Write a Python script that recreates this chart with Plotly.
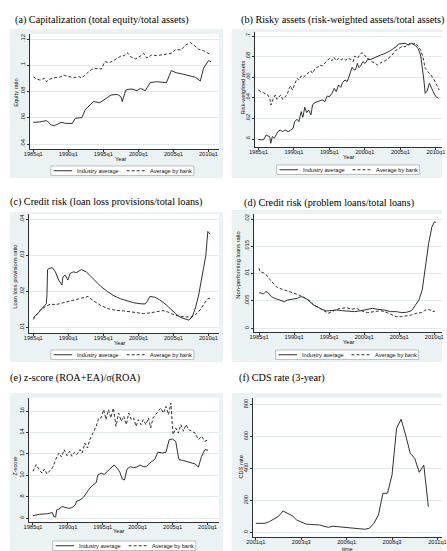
import plotly.graph_objects as go

W, H = 447, 551

# ---------------- data ----------------
yr_ticks = [1985, 1990, 1995, 2000, 2005, 2010]
yr_labels = ["1985q1", "1990q1", "1995q1", "2000q1", "2005q1", "2010q1"]

# (a) Capitalization (total equity/total assets)
a_ind_x = [1985.0, 1985.93, 1986.85, 1987.08, 1987.55, 1988.0, 1988.47, 1988.94, 1989.63, 1990.56,
           1991.0, 1991.94, 1992.4, 1993.1, 1993.56, 1994.5, 1995.2, 1996.1, 1997.0, 1997.5,
           1997.7, 1998.2, 1998.66, 1999.1, 1999.8, 2000.3, 2001.0, 2001.67, 2002.6, 2004.0,
           2004.7, 2005.4, 2006.3, 2007.2, 2008.15, 2008.84, 2009.3, 2010.0, 2010.37]
a_ind_y = [.0565, .0568, .0578, .0570, .0545, .0540, .0550, .0565, .0557, .0557,
           .0596, .0601, .0659, .0697, .0723, .0715, .0740, .0773, .0778, .0761,
           .0723, .0811, .0817, .0819, .0806, .0824, .0806, .0867, .0875, .0867,
           .0959, .0943, .0933, .0921, .0908, .0880, .0977, .1035, .1027]
a_bank_x = [1985.0, 1985.46, 1985.93, 1986.62, 1986.85, 1987.31, 1988.0, 1988.7, 1989.4, 1990.09,
            1990.79, 1991.48, 1991.94, 1992.64, 1993.33, 1994.26, 1994.72, 1995.19, 1995.88, 1996.57,
            1997.5, 1997.96, 1998.43, 1998.89, 1999.58, 2000.28, 2000.74, 2001.2, 2001.9, 2002.59,
            2003.29, 2003.98, 2004.68, 2005.37, 2006.06, 2006.76, 2007.45, 2007.92, 2008.61, 2009.3,
            2010.0, 2010.37]
a_bank_y = [.0913, .0895, .0888, .0900, .0875, .0893, .0905, .0908, .0923, .0916,
            .0905, .0913, .0903, .0938, .0969, .0977, .0971, .1027, .1020, .1040,
            .1070, .1073, .1096, .1065, .1048, .1070, .1091, .1055, .1078, .1073,
            .1078, .1086, .1091, .1121, .1116, .1154, .1172, .1154, .1121, .1111,
            .1091, .1078]
a_yticks = [0.04, 0.06, 0.08, 0.10, 0.12]
a_ylabels = [".04", ".06", ".08", ".1", ".12"]

# (b) Risky assets (risk-weighted assets/total assets)
b_ind_x = [1985.0, 1985.41, 1985.78, 1986.1, 1986.37, 1986.6, 1986.74, 1986.97, 1987.24, 1987.51,
           1987.74, 1988.06, 1988.43, 1988.75, 1989.2, 1989.57, 1989.89, 1990.12, 1990.44, 1990.71,
           1991.03, 1991.26, 1991.54, 1991.81, 1992.08, 1992.4, 1992.63, 1992.91, 1993.23, 1993.64,
           1994.0, 1994.37, 1994.69, 1995.01, 1995.37, 1995.69, 1995.97, 1996.29, 1996.61, 1996.84,
           1997.2, 1997.52, 1997.89, 1998.21, 1998.48, 1998.71, 1998.94, 1999.17, 1999.4, 1999.72,
           2000.04, 2000.4, 2000.86, 2001.32, 2001.77, 2002.23, 2002.69, 2003.14, 2003.6, 2004.06,
           2004.42, 2004.74, 2005.2, 2005.66, 2006.11, 2006.57, 2007.03, 2007.49, 2007.85, 2008.08,
           2008.31, 2008.49, 2008.72, 2009.09, 2009.36, 2009.63, 2010.0, 2010.37]
b_ind_y = [.6000, .5994, .6000, .6042, .6032, .6026, .5961, .6026, .6010, .6042,
           .6074, .6090, .6074, .6090, .6074, .6090, .6106, .6171, .6194, .6171,
           .6268, .6213, .6310, .6258, .6284, .6235, .6332, .6355, .6365, .6374,
           .6381, .6365, .6419, .6413, .6445, .6494, .6461, .6526, .6503, .6548,
           .6574, .6558, .6645, .6697, .6671, .6677, .6735, .6694, .6710, .6752,
           .6735, .6774, .6774, .6790, .6806, .6816, .6826, .6839, .6858, .6881,
           .6897, .6923, .6929, .6929, .6913, .6929, .6913, .6881, .6816, .6703,
           .6574, .6445, .6461, .6542, .6494, .6461, .6413, .6397]
b_bank_x = [1985.0, 1985.32, 1985.69, 1986.01, 1986.33, 1986.6, 1986.78, 1987.06, 1987.38, 1987.61,
            1987.88, 1988.15, 1988.43, 1988.75, 1989.07, 1989.34, 1989.57, 1989.8, 1990.12, 1990.44,
            1990.71, 1991.03, 1991.35, 1991.72, 1992.08, 1992.36, 1992.63, 1993.0, 1993.32, 1993.64,
            1994.0, 1994.37, 1994.69, 1995.01, 1995.37, 1995.65, 1995.97, 1996.29, 1996.65, 1996.97,
            1997.29, 1997.66, 1998.03, 1998.35, 1998.57, 1998.94, 1999.26, 1999.58, 1999.95, 2000.31,
            2000.63, 2000.95, 2001.32, 2001.77, 2002.14, 2002.46, 2002.92, 2003.37, 2003.83, 2004.29,
            2004.74, 2005.2, 2005.66, 2006.11, 2006.43, 2006.8, 2007.17, 2007.53, 2007.85, 2008.17,
            2008.49, 2008.86, 2009.31, 2009.77, 2010.23, 2010.46]
b_bank_y = [.6477, .6461, .6452, .6439, .6429, .6397, .6332, .6387, .6429, .6387,
            .6413, .6429, .6387, .6413, .6435, .6494, .6516, .6477, .6542, .6590,
            .6574, .6613, .6600, .6623, .6639, .6665, .6639, .6687, .6697, .6719,
            .6710, .6742, .6761, .6784, .6761, .6794, .6761, .6784, .6768, .6784,
            .6768, .6784, .6774, .6752, .6806, .6784, .6816, .6839, .6816, .6784,
            .6774, .6752, .6742, .6719, .6735, .6752, .6761, .6784, .6816, .6858,
            .6881, .6897, .6897, .6913, .6935, .6923, .6929, .6897, .6865, .6800,
            .6687, .6655, .6623, .6574, .6510, .6477]
b_yticks = [0.60, 0.62, 0.64, 0.66, 0.68, 0.70]
b_ylabels = [".6", ".62", ".64", ".66", ".68", ".7"]

# (c) Credit risk (loan loss provisions/total loans)
c_ind_x = [1985.0, 1985.37, 1985.84, 1986.3, 1986.86, 1986.95, 1987.04, 1987.23, 1987.7, 1988.16,
           1988.62, 1989.09, 1989.23, 1989.55, 1989.93, 1990.25, 1990.72, 1991.18, 1991.88, 1992.57,
           1993.27, 1993.97, 1994.67, 1995.59, 1996.52, 1997.45, 1998.38, 1999.31, 2000.24, 2000.94,
           2001.26, 2001.64, 2002.33, 2003.03, 2003.96, 2004.66, 2005.35, 2006.05, 2006.75, 2007.21,
           2007.68, 2008.14, 2008.61, 2009.07, 2009.63, 2009.91, 2010.23]
c_ind_y = [.01273, .01336, .01436, .01545, .01664, .01909, .02609, .02636, .02664, .02545,
           .02318, .02182, .02409, .02455, .02318, .02500, .02545, .02527, .02609, .02545,
           .02409, .02273, .02136, .02000, .01882, .01800, .01736, .01691, .01664, .01655,
           .01727, .01864, .01845, .01773, .01636, .01500, .01382, .01282, .01227, .01209,
           .01300, .01545, .01909, .02364, .03000, .03664, .03591]
c_bank_x = [1985.0, 1985.84, 1986.77, 1987.46, 1988.16, 1989.09, 1990.02, 1991.18, 1992.34, 1992.81,
            1993.5, 1994.67, 1995.83, 1996.76, 1997.92, 1998.85, 1999.78, 2000.71, 2001.64, 2002.57,
            2003.49, 2004.19, 2004.89, 2005.82, 2006.75, 2007.44, 2008.14, 2008.84, 2009.44, 2009.91,
            2010.23]
c_bank_y = [.01227, .01455, .01591, .01655, .01636, .01682, .01727, .01791, .01845, .01864,
            .01755, .01609, .01518, .01482, .01464, .01436, .01409, .01391, .01409, .01436,
            .01473, .01436, .01373, .01318, .01300, .01291, .01355, .01500, .01682, .01800,
            .01818]
c_yticks = [0.01, 0.02, 0.03, 0.04]
c_ylabels = [".01", ".02", ".03", ".04"]

# (d) Credit risk (problem loans/total loans)
d_ind_x = [1985.0, 1985.14, 1985.6, 1985.97, 1986.3, 1986.76, 1987.22, 1987.69, 1988.15, 1988.61,
           1989.07, 1989.54, 1990.0, 1990.46, 1990.93, 1991.39, 1991.85, 1992.31, 1992.78, 1993.47,
           1993.94, 1994.63, 1995.42, 1996.11, 1996.81, 1997.73, 1998.66, 1999.58, 2000.51, 2001.2,
           2001.9, 2002.82, 2003.75, 2004.58, 2005.37, 2006.06, 2006.76, 2007.13, 2007.45, 2007.82,
           2008.29, 2008.75, 2009.21, 2009.68, 2010.05, 2010.23]
d_ind_y = [.00640, .00652, .00628, .00671, .00652, .00579, .00549, .00530, .00518, .00488,
           .00518, .00530, .00549, .00549, .00579, .00567, .00530, .00470, .00427, .00384,
           .00348, .00317, .00323, .00335, .00323, .00317, .00305, .00323, .00348, .00366,
           .00348, .00335, .00305, .00305, .00287, .00293, .00323, .00396, .00457, .00518,
           .00701, .01128, .01555, .01860, .01951, .01933]
d_bank_x = [1985.0, 1985.14, 1985.6, 1986.06, 1986.53, 1986.99, 1987.45, 1987.92, 1988.38, 1988.84,
            1989.31, 1989.77, 1990.23, 1990.69, 1991.16, 1991.62, 1992.08, 1992.55, 1993.01, 1993.7,
            1994.4, 1994.86, 1995.42, 1996.11, 1996.81, 1997.5, 1998.19, 1998.89, 1999.58, 2000.51,
            2001.44, 2002.36, 2003.29, 2003.98, 2004.58, 2005.37, 2006.06, 2006.76, 2007.45, 2008.15,
            2008.61, 2008.98, 2009.44, 2009.77, 2010.14]
d_bank_y = [.01098, .01037, .01018, .00976, .00896, .00823, .00762, .00732, .00713, .00689,
            .00671, .00652, .00628, .00610, .00579, .00549, .00518, .00457, .00409, .00366,
            .00305, .00274, .00305, .00348, .00366, .00378, .00348, .00366, .00323, .00287,
            .00305, .00323, .00287, .00244, .00213, .00213, .00226, .00244, .00274, .00287,
            .00323, .00348, .00335, .00305, .00317]
d_yticks = [0, 0.005, 0.01, 0.015, 0.02]
d_ylabels = ["0", ".005", ".01", ".015", ".02"]

# (e) z-score (ROA+EA)/sigma(ROA)
e_ind_x = [1985.0, 1985.93, 1987.09, 1987.79, 1987.97, 1988.25, 1988.39, 1988.72, 1989.18, 1989.65,
           1990.11, 1990.58, 1991.04, 1991.27, 1991.74, 1992.2, 1992.67, 1993.13, 1993.6, 1994.06,
           1994.29, 1994.76, 1995.22, 1995.69, 1996.15, 1996.62, 1997.08, 1997.45, 1997.78, 1998.1,
           1998.48, 1998.94, 1999.41, 1999.87, 2000.33, 2000.8, 2001.26, 2001.73, 2002.43, 2002.89,
           2003.59, 2004.05, 2004.52, 2004.98, 2005.45, 2005.68, 2005.91, 2006.61, 2007.3, 2008.23,
           2008.7, 2009.16, 2009.63, 2010.09]
e_ind_y = [6.25, 6.37, 6.43, 6.53, 6.16, 6.12, 6.78, 6.87, 7.09, 6.99,
           6.93, 6.99, 7.24, 7.61, 7.71, 7.93, 8.42, 8.80, 9.11, 9.32,
           10.04, 10.19, 10.10, 10.41, 10.66, 10.97, 10.66, 10.29, 9.66, 9.57,
           10.60, 10.81, 10.72, 10.78, 10.97, 10.81, 10.81, 11.16, 11.47, 12.15,
           12.09, 12.15, 13.33, 13.39, 13.17, 12.09, 11.47, 11.37, 11.25, 11.06,
           10.78, 11.78, 12.40, 12.34]
e_bank_x = [1985.0, 1985.46, 1985.93, 1986.3, 1986.63, 1987.0, 1987.46, 1987.79, 1988.25, 1988.72,
            1989.09, 1989.46, 1989.88, 1990.25, 1990.58, 1990.95, 1991.27, 1991.74, 1992.06, 1992.43,
            1992.81, 1993.13, 1993.6, 1994.06, 1994.43, 1994.76, 1995.13, 1995.46, 1995.83, 1996.15,
            1996.52, 1996.9, 1997.27, 1997.64, 1998.01, 1998.38, 1998.71, 1999.08, 1999.41, 1999.78,
            2000.1, 2000.47, 2000.8, 2001.17, 2001.54, 2001.87, 2002.19, 2002.57, 2002.94, 2003.31,
            2003.68, 2004.05, 2004.42, 2004.75, 2005.07, 2005.45, 2005.82, 2006.19, 2006.56, 2006.93,
            2007.3, 2007.77, 2008.23, 2008.7, 2009.16, 2009.63, 2010.09]
e_bank_y = [10.38, 11.00, 10.47, 10.22, 10.60, 10.13, 10.47, 10.69, 11.47, 12.09,
            11.71, 12.40, 11.84, 12.24, 11.78, 12.15, 11.93, 12.40, 12.09, 13.02,
            12.55, 13.33, 13.95, 14.57, 15.35, 15.35, 16.12, 15.19, 16.12, 15.35,
            16.28, 14.57, 15.81, 15.04, 15.50, 14.73, 15.81, 15.19, 15.35, 14.57,
            15.19, 14.73, 15.19, 14.73, 15.35, 14.42, 15.35, 15.66, 15.97, 16.28,
            15.81, 16.43, 15.66, 16.75, 13.80, 14.42, 13.95, 14.73, 14.11, 14.73,
            14.26, 14.11, 13.95, 13.33, 13.64, 13.17, 13.33]
e_yticks = [6, 8, 10, 12, 14, 16]
e_ylabels = ["6", "8", "10", "12", "14", "16"]

# (f) CDS rate (3-year), quarterly
f_quarters = ["2001q1", "2001q2", "2001q3", "2001q4", "2002q1", "2002q2", "2002q3", "2002q4",
              "2003q1", "2003q2", "2003q3", "2003q4", "2004q1", "2004q2", "2004q3", "2004q4",
              "2005q1", "2005q2", "2005q3", "2005q4", "2006q1", "2006q2", "2006q3", "2006q4",
              "2007q1", "2007q2", "2007q3", "2007q4", "2008q1", "2008q2", "2008q3", "2008q4",
              "2009q1", "2009q2", "2009q3", "2009q4", "2010q1", "2010q2", "2010q3"]
f_cds = [56, 56, 56, 67, 81, 100, 133, 119, 104, 77,
         63, 52, 49, 47, 46, 38, 31, 38, 35, 31,
         29, 27, 25, 22, 19, 25, 56, 108, 244, 244,
         358, 650, 706, 608, 494, 462, 375, 420, 160]
f_xlabels = ["2001q1", "2003q3", "2006q1", "2008q3", "2011q1"]
f_yticks = [0, 200, 400, 600, 800]
f_ylabels = ["0", "200", "400", "600", "800"]


def qindex(s):
    return (int(s[:4]) - 2001) * 4 + int(s[5]) - 1


f_x = [qindex(s) for s in f_quarters]
f_xticks = [qindex(s) for s in f_xlabels]

# ---------------- styling ----------------
BG = "#EAF2F3"
GRID = "#E1E9EA"
AX = "#303030"
LINE = "#262626"
SANS = "Liberation Sans, Arial, sans-serif"
SERIF = "Liberation Serif, Times New Roman, serif"
TICKFS = 5.7
DASH = "3px,2px"


def PX(p):
    return p / W


def PY(p):
    return 1 - p / H


def lin(p, p0, v0, p1, v1):
    return v0 + (p - p0) * (v1 - v0) / (p1 - p0)


# panel geometry (pixels)
panels = [
    dict(title="(a) Capitalization (total equity/total assets)", tx=6, ty=20,
         box=(3, 29, 222, 178), plot=(24, 34, 218, 149),
         xcal=(27, 1985, 207, 2010), ycal=(144, 0.04, 39, 0.12),
         ytitle="Equity ratio", ytx=9, yty=93, xtitle="Year", xtx=117, xty=159, leg=(45, 166)),
    dict(title="(b) Risky assets (risk-weighted assets/total assets)", tx=238, ty=20,
         box=(231, 29, 447, 178), plot=(255, 32, 447, 147),
         xcal=(258.3, 1985, 440.7, 2010), ycal=(139.3, 0.60, 36, 0.70),
         ytitle="Risk-weighted assets", ytx=242, yty=88, xtitle="Year", xtx=351, xty=157, leg=(277, 165)),
    dict(title="(c) Credit risk (loan loss provisions/total loans)", tx=1, ty=202,
         box=(3, 212, 222, 362), plot=(23, 214, 218, 333),
         xcal=(27, 1985, 207, 2010), ycal=(327.7, 0.01, 219.3, 0.04),
         ytitle="Loan loss provisions ratio", ytx=8, yty=277, xtitle="Year", xtx=116, xty=343, leg=(45, 350)),
    dict(title="(d) Credit risk (problem loans/total loans)", tx=241, ty=203,
         box=(231, 210, 447, 362), plot=(254, 214, 447, 332),
         xcal=(259, 1985, 439, 2010), ycal=(328.3, 0.0, 219, 0.02),
         ytitle="Non-performing loans ratio", ytx=237, yty=265, xtitle="Year", xtx=351, xty=342, leg=(276, 350)),
    dict(title="(e) z-score (ROA+EA)/\u03c3(ROA)", tx=1, ty=378,
         box=(3, 393, 222, 551), plot=(23, 398, 218, 522),
         xcal=(26.7, 1985, 206, 2010), ycal=(518.3, 6, 411, 16),
         ytitle="Z-score", ytx=8, yty=466, xtitle="Year", xtx=115, xty=531, leg=(47, 541)),
    dict(title="(f) CDS rate (3-year)", tx=236, ty=378,
         box=(231, 393, 447, 551), plot=(253, 398, 447, 537),
         xcal=(255.7, 0, 442.3, 40), ycal=(532.3, 0, 404.3, 800),
         ytitle="CDS rate", ytx=240, yty=467, xtitle="time", xtx=350, xty=548.5, leg=None),
]

series = [
    (a_ind_x, a_ind_y, a_bank_x, a_bank_y, yr_ticks, yr_labels, a_yticks, a_ylabels),
    (b_ind_x, b_ind_y, b_bank_x, b_bank_y, yr_ticks, yr_labels, b_yticks, b_ylabels),
    (c_ind_x, c_ind_y, c_bank_x, c_bank_y, yr_ticks, yr_labels, c_yticks, c_ylabels),
    (d_ind_x, d_ind_y, d_bank_x, d_bank_y, yr_ticks, yr_labels, d_yticks, d_ylabels),
    (e_ind_x, e_ind_y, e_bank_x, e_bank_y, yr_ticks, yr_labels, e_yticks, e_ylabels),
    (f_x, f_cds, None, None, f_xticks, f_xlabels, f_yticks, f_ylabels),
]

fig = go.Figure()
layout = dict(width=W, height=H, margin=dict(l=0, r=0, t=0, b=0),
              paper_bgcolor="white", plot_bgcolor="white", showlegend=False)
shapes = []
annotations = []

for i, (p, s) in enumerate(zip(panels, series)):
    n = "" if i == 0 else str(i + 1)
    xa, ya = "x" + n, "y" + n
    x0, y0, x1, y1 = p["plot"]
    xr = [lin(x0, *p["xcal"]), lin(x1, *p["xcal"])]
    yr = [lin(y1, *p["ycal"]), lin(y0, *p["ycal"])]
    indx, indy, bx, by, xtv, xtt, ytv, ytt = s

    layout["xaxis" + n] = dict(
        domain=[PX(x0), PX(x1)], range=xr, anchor=ya, tickvals=xtv, ticktext=xtt,
        ticks="outside", ticklen=2.5, tickwidth=0.7, tickcolor=AX, showline=True,
        linecolor=AX, linewidth=0.7, showgrid=False, zeroline=False,
        ticklabelstandoff=-3, ticklabeloverflow="allow",
        tickfont=dict(family=SANS, size=TICKFS, color="#111"))
    layout["yaxis" + n] = dict(
        domain=[PY(y1), PY(y0)], range=yr, anchor=xa, tickvals=ytv, ticktext=ytt,
        tickangle=-90, ticks="outside", ticklen=2.5, tickwidth=0.7, tickcolor=AX,
        showline=True, linecolor=AX, linewidth=0.7, showgrid=True, gridcolor=GRID,
        gridwidth=0.8, zeroline=False, ticklabeloverflow="allow",
        tickfont=dict(family=SANS, size=TICKFS, color="#111"))

    fig.add_trace(go.Scatter(x=indx, y=indy, xaxis=xa, yaxis=ya, mode="lines",
                             line=dict(color=LINE, width=0.95),
                             name="Industry average" if bx is not None else "CDS rate"))
    if bx is not None:
        fig.add_trace(go.Scatter(x=bx, y=by, xaxis=xa, yaxis=ya, mode="lines",
                                 line=dict(color=LINE, width=0.95, dash=DASH),
                                 name="Average by bank"))

    bx0, by0, bx1, by1 = p["box"]
    shapes.append(dict(type="rect", xref="paper", yref="paper", layer="below",
                       x0=PX(bx0), x1=PX(bx1), y0=PY(by1), y1=PY(by0),
                       fillcolor=BG, line=dict(width=0)))
    shapes.append(dict(type="rect", xref="paper", yref="paper", layer="below",
                       x0=PX(x0), x1=PX(x1), y0=PY(y1), y1=PY(y0),
                       fillcolor="white", line=dict(width=0)))

    annotations.append(dict(text=p["title"], x=PX(p["tx"]), y=PY(p["ty"]), xref="paper",
                            yref="paper", xanchor="left", yanchor="middle", showarrow=False,
                            font=dict(family=SERIF, size=10.2, color="#000")))
    annotations.append(dict(text=p["ytitle"], x=PX(p["ytx"]), y=PY(p["yty"]), xref="paper",
                            yref="paper", xanchor="center", yanchor="middle", showarrow=False,
                            textangle=-90, font=dict(family=SANS, size=TICKFS, color="#111")))
    annotations.append(dict(text=p["xtitle"], x=PX(p["xtx"]), y=PY(p["xty"]), xref="paper",
                            yref="paper", xanchor="center", yanchor="middle", showarrow=False,
                            font=dict(family=SANS, size=TICKFS, color="#111")))

    if p["leg"] is not None:
        lx, ly = p["leg"]
        lw, lh = 147, 9.5
        shapes.append(dict(type="rect", xref="paper", yref="paper", layer="above",
                           x0=PX(lx), x1=PX(lx + lw), y0=PY(ly + lh), y1=PY(ly),
                           fillcolor="white", line=dict(color="#9a9a9a", width=0.6)))
        cy = PY(ly + lh / 2)
        shapes.append(dict(type="line", xref="paper", yref="paper", layer="above",
                           x0=PX(lx + 3), x1=PX(lx + 22), y0=cy, y1=cy,
                           line=dict(color=LINE, width=0.95)))
        shapes.append(dict(type="line", xref="paper", yref="paper", layer="above",
                           x0=PX(lx + 78), x1=PX(lx + 97), y0=cy, y1=cy,
                           line=dict(color=LINE, width=0.95, dash=DASH)))
        annotations.append(dict(text="Industry average", x=PX(lx + 25), y=cy, xref="paper",
                                yref="paper", xanchor="left", yanchor="middle", showarrow=False,
                                font=dict(family=SANS, size=5.6, color="#111")))
        annotations.append(dict(text="Average by bank", x=PX(lx + 100), y=cy, xref="paper",
                                yref="paper", xanchor="left", yanchor="middle", showarrow=False,
                                font=dict(family=SANS, size=5.6, color="#111")))

layout["shapes"] = shapes
layout["annotations"] = annotations
fig.update_layout(**layout)
fig.write_html("out.html")
